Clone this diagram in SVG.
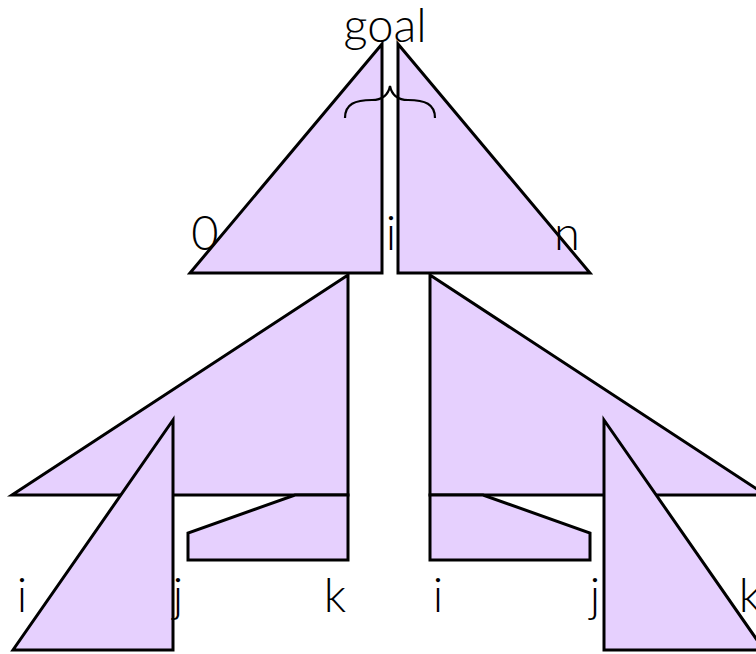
<svg xmlns="http://www.w3.org/2000/svg" width="756" height="654" viewBox="0 0 756 654">
<style>
.s{fill:#e6d0fe;stroke:#000;stroke-width:3;stroke-linejoin:miter}
.t{font-family:Lato,"Noto Sans",sans-serif;font-weight:300;font-size:47px;fill:#000;text-anchor:middle}
</style>
<rect width="756" height="654" fill="#fff"/>
<g id="mid-left"><polygon class="s" points="348,275 12,495 348,495"/></g>
<g id="low-left"><polygon class="s" points="295,495 348,495 348,560 188,560 188,533"/></g>
<g id="bot-left"><polygon class="s" points="173,420 13,650 173,650"/></g>
<g id="mid-right"><polygon class="s" points="430,275 766,495 430,495"/></g>
<g id="low-right"><polygon class="s" points="483,495 430,495 430,560 590,560 590,533"/></g>
<g id="bot-right"><polygon class="s" points="604,420 764,650 604,650"/></g>
<g id="top-left"><polygon class="s" points="382,44 190,273 382,273"/></g>
<g id="top-right"><polygon class="s" points="398,44 590,273 398,273"/></g>
<g id="connectors"><path d="M345,118 C345,104 355,100 372,100 C382,100 388,96 390,86 C392,96 398,100 408,100 C425,100 435,104 435,118" fill="none" stroke="#000" stroke-width="2.2"/></g>
<g id="labels">
<text class="t" x="385" y="42">goal</text>
<text class="t" x="205" y="250">0</text>
<text class="t" x="391" y="250">i</text>
<text class="t" x="567" y="250">n</text>
<text class="t" x="22" y="612">i</text>
<text class="t" x="178" y="612">j</text>
<text class="t" x="335" y="612">k</text>
<text class="t" x="438" y="612">i</text>
<text class="t" x="595" y="612">j</text>
<text class="t" x="750" y="612">k</text>
</g>
</svg>
